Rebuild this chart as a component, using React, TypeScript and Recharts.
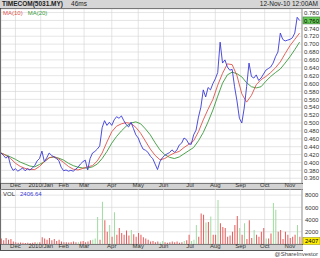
import React from "react";
import { ComposedChart, Line, Bar, Cell, XAxis, YAxis, CartesianGrid } from "recharts";

// trading-day index of each month start (x axis), and its label
const monthTicks = [12, 33, 52, 69, 92, 114, 135, 157, 178, 199, 219, 240];
const monthLabels = ["Dec", "2010/Jan", "Feb", "Mar", "Apr", "May", "Jun", "Jul", "Aug", "Sep", "Oct", "Nov"];

// closing price, one value every 2 trading days (day 0 .. 250)
const closes = [
    0.424, 0.418, 0.411, 0.416, 0.392, 0.38, 0.384, 0.378, 0.382, 0.386,
    0.379, 0.384, 0.381, 0.386, 0.392, 0.404, 0.41, 0.429, 0.402, 0.412,
    0.424, 0.418, 0.414, 0.41, 0.405, 0.388, 0.379, 0.381, 0.378, 0.38,
    0.378, 0.383, 0.388, 0.396, 0.402, 0.406, 0.381, 0.41, 0.424, 0.428,
    0.434, 0.442, 0.488, 0.506, 0.494, 0.502, 0.494, 0.508, 0.516, 0.512,
    0.518, 0.506, 0.496, 0.49, 0.502, 0.486, 0.47, 0.462, 0.446, 0.434,
    0.431, 0.426, 0.416, 0.41, 0.396, 0.382, 0.402, 0.412, 0.418, 0.422,
    0.425, 0.432, 0.426, 0.431, 0.444, 0.449, 0.462, 0.458, 0.447, 0.446,
    0.47, 0.482, 0.515, 0.54, 0.584, 0.566, 0.59, 0.584, 0.6, 0.612,
    0.628, 0.705, 0.652, 0.66, 0.642, 0.634, 0.636, 0.592, 0.556, 0.512,
    0.5, 0.538, 0.592, 0.652, 0.618, 0.614, 0.622, 0.608, 0.614, 0.624,
    0.634, 0.638, 0.642, 0.652, 0.668, 0.68, 0.728, 0.712, 0.708, 0.71,
    0.712, 0.716, 0.728, 0.768, 0.76,
];

// moving averages, one value every 4 trading days (day 0 .. 248)
const ma10 = [
    0.424, 0.418, 0.41, 0.398, 0.39, 0.385, 0.382, 0.382, 0.39, 0.402,
    0.412, 0.415, 0.409, 0.4, 0.39, 0.383, 0.381, 0.385, 0.389, 0.392,
    0.404, 0.424, 0.452, 0.478, 0.492, 0.498, 0.501, 0.499, 0.489, 0.474,
    0.454, 0.434, 0.418, 0.407, 0.41, 0.418, 0.424, 0.428, 0.438, 0.446,
    0.455, 0.478, 0.508, 0.535, 0.56, 0.596, 0.626, 0.65, 0.648, 0.62,
    0.574, 0.553, 0.57, 0.597, 0.61, 0.618, 0.628, 0.64, 0.655, 0.676,
    0.696, 0.712, 0.728,
];
const ma20 = [
    0.424, 0.419, 0.414, 0.408, 0.401, 0.396, 0.391, 0.389, 0.395, 0.402,
    0.412, 0.414, 0.411, 0.406, 0.398, 0.392, 0.388, 0.386, 0.386, 0.389,
    0.396, 0.41, 0.428, 0.449, 0.466, 0.48, 0.492, 0.5, 0.503, 0.498,
    0.485, 0.47, 0.45, 0.432, 0.42, 0.413, 0.41, 0.414, 0.422, 0.43,
    0.438, 0.455, 0.476, 0.503, 0.533, 0.568, 0.601, 0.622, 0.629, 0.625,
    0.617, 0.602, 0.592, 0.589, 0.592, 0.606, 0.618, 0.628, 0.637, 0.652,
    0.668, 0.686, 0.705,
];

// volume ('000), one bar every 2 trading days (day 0 .. 248); 1 = up day
const volumes = [
    900, 600, 1000, 700, 800, 400, 300, 200, 250, 200,
    150, 200, 150, 200, 300, 250, 300, 1100, 900, 700,
    1000, 600, 800, 500, 700, 400, 300, 300, 250, 300,
    400, 300, 300, 400, 500, 300, 400, 600, 700, 900,
    4400, 700, 6900, 3900, 2000, 3100, 1200, 5200, 1500, 2600,
    1800, 1500, 2200, 1400, 2300, 1600, 1200, 1800, 1500, 1100,
    900, 700, 400, 500, 300, 400, 300, 500, 300, 200,
    300, 400, 300, 400, 200, 300, 500, 600, 1500, 500,
    700, 3100, 1200, 5000, 4800, 3500, 3600, 4500, 1500, 1500,
    7200, 3400, 2800, 2600, 1200, 1400, 2000, 3100, 4600, 2600,
    1500, 3400, 800, 3900, 1000, 2300, 1500, 1200, 2000, 2600,
    900, 900, 1700, 6700, 5600, 2000, 2300, 800, 2000, 1500,
    1000, 1200, 1500, 3100, 1200,
];
const volumeUp = [
    0, 0, 0, 0, 0, 0, 0, 0, 0, 0,
    0, 0, 0, 0, 0, 1, 0, 0, 0, 0,
    0, 0, 0, 0, 0, 0, 0, 0, 0, 0,
    0, 0, 1, 0, 0, 0, 0, 0, 1, 1,
    1, 0, 1, 0, 0, 1, 0, 1, 0, 0,
    0, 0, 0, 0, 1, 0, 0, 0, 0, 0,
    0, 0, 0, 0, 0, 0, 1, 1, 0, 0,
    0, 0, 0, 0, 0, 0, 1, 0, 0, 1,
    1, 1, 0, 0, 0, 1, 0, 1, 0, 0,
    1, 0, 0, 0, 0, 0, 0, 0, 0, 1,
    0, 1, 0, 0, 0, 1, 0, 0, 0, 0,
    1, 0, 0, 1, 1, 0, 0, 0, 0, 0,
    0, 0, 0, 1, 0,
];

const priceTicks = [0.36, 0.38, 0.4, 0.42, 0.44, 0.46, 0.48, 0.5, 0.52, 0.54, 0.56, 0.58, 0.6, 0.62, 0.64, 0.66, 0.68, 0.7, 0.72, 0.74, 0.76, 0.78];
const volTicks = [0, 2000, 4000, 6000, 8000];
const lastPrice = 0.76;
const lastVol = "2406.64";

const font = "'Liberation Sans', Arial, sans-serif";

const priceData = closes.map((p, i) => ({ x: i * 2, p }));
const ma10Data = ma10.map((m, i) => ({ x: i * 4, m }));
const ma20Data = ma20.map((m, i) => ({ x: i * 4, m }));
const volData = volumes.map((v, i) => ({ x: i * 2, v, up: volumeUp[i] }));

const monthName = (v: number) => monthLabels[monthTicks.indexOf(v)] ?? "";

const PriceTick = (props: any) => {
    const { x, y, payload } = props;
    const v = payload.value;
    if (Math.abs(v - lastPrice) < 1e-6) {
        return (
            <g>
                <rect x={x - 1} y={y - 3.5} width={17} height={7} fill="#66cc55" stroke="#336633" strokeWidth={0.5} />
                <text x={x} y={y + 2.2} fontSize={6} fontFamily={font} fill="#000">{v.toFixed(3)}</text>
            </g>
        );
    }
    return (
        <text x={x} y={y + 2.2} fontSize={6} fontFamily={font} fill="#333">{v.toFixed(3)}</text>
    );
};

const VolTick = (props: any) => {
    const { x, y, payload } = props;
    const v = payload.value;
    if (v === 0) {
        return (
            <g>
                <rect x={x - 1} y={y - 6.5} width={17} height={7} fill="#ffee00" stroke="#888800" strokeWidth={0.5} />
                <text x={x + 1} y={y - 0.8} fontSize={6} fontFamily={font} fill="#000">{Math.round(Number(lastVol))}</text>
            </g>
        );
    }
    return (
        <text x={x + 1} y={y + 2.2} fontSize={6} fontFamily={font} fill="#333">{v}</text>
    );
};

const band = (top: number): React.CSSProperties => ({
    position: "absolute",
    left: 0,
    top: top,
    width: 303,
    height: 5,
    background: "#d2d2d2",
    borderTop: "1px solid #555",
    borderBottom: "1px solid #555",
});

export default function App() {
    return (
        <div style={{ position: "absolute", left: 0, top: 0, width: 320, height: 258, background: "#fff", overflow: "hidden", fontFamily: font }}>
            {/* title bar */}
            <div style={{ position: "absolute", left: 0, top: 0, width: 320, height: 8, background: "#d6d6d6", borderBottom: "1px solid #777" }} />
            <div style={{ position: "absolute", left: 2, top: 0, fontSize: 6.5, lineHeight: "8px", color: "#222", fontWeight: "bold" }}>
                TIMECOM(5031.MY)
                <span style={{ fontWeight: "normal", marginLeft: 8 }}>46ms</span>
            </div>
            <div style={{ position: "absolute", right: 2, top: 0, fontSize: 6.5, lineHeight: "8px", color: "#222" }}>12-Nov-10 12:00AM</div>

            {/* axis bands */}
            <div style={band(183)} />
            <div style={band(244)} />
            <div style={{ position: "absolute", left: 0, top: 8, width: 1, height: 242, background: "#444" }} />

            {/* price panel */}
            <div style={{ position: "absolute", left: 0, top: 9 }}>
                <ComposedChart width={320} height={180} margin={{ top: 0, right: 0, bottom: 0, left: 1 }}>
                    <CartesianGrid stroke="#d4d4d4" strokeWidth={0.6} />
                    <XAxis
                        type="number"
                        dataKey="x"
                        domain={[0, 250]}
                        ticks={monthTicks}
                        tickFormatter={monthName}
                        allowDataOverflow
                        height={6}
                        tickLine={false}
                        axisLine={false}
                        tickSize={0}
                        tickMargin={0}
                        interval={0}
                        tick={{ fontSize: 6, fill: "#333", fontFamily: font }}
                    />
                    <YAxis
                        orientation="right"
                        domain={[0.348, 0.789]}
                        ticks={priceTicks}
                        allowDataOverflow
                        width={18}
                        tickLine={false}
                        tickSize={0}
                        tickMargin={2}
                        interval={0}
                        axisLine={{ stroke: "#999" }}
                        tick={<PriceTick />}
                    />
                    <Line data={ma20Data} dataKey="m" stroke="#3a9a3a" strokeWidth={0.9} dot={false} isAnimationActive={false} />
                    <Line data={ma10Data} dataKey="m" stroke="#e0524a" strokeWidth={0.9} dot={false} isAnimationActive={false} />
                    <Line data={priceData} dataKey="p" stroke="#3a3ad8" strokeWidth={0.9} dot={false} isAnimationActive={false} />
                </ComposedChart>
            </div>
            <div style={{ position: "absolute", left: 3, top: 9, fontSize: 6, lineHeight: "8px" }}>
                <span style={{ color: "#e0524a" }}>MA(10)</span>
                <span style={{ color: "#3a9a3a", marginLeft: 5 }}>MA(20)</span>
            </div>

            {/* volume panel */}
            <div style={{ position: "absolute", left: 0, top: 189 }}>
                <ComposedChart width={320} height={61} data={volData} margin={{ top: 0, right: 0, bottom: 0, left: 1 }}>
                    <CartesianGrid stroke="#d4d4d4" strokeWidth={0.6} />
                    <XAxis
                        type="number"
                        dataKey="x"
                        domain={[0, 250]}
                        ticks={monthTicks}
                        tickFormatter={monthName}
                        allowDataOverflow
                        height={6}
                        tickLine={false}
                        axisLine={false}
                        tickSize={0}
                        tickMargin={0}
                        interval={0}
                        tick={{ fontSize: 6, fill: "#333", fontFamily: font }}
                    />
                    <YAxis
                        orientation="right"
                        domain={[0, 9000]}
                        ticks={volTicks}
                        allowDataOverflow
                        width={18}
                        tickLine={false}
                        tickSize={0}
                        tickMargin={2}
                        interval={0}
                        axisLine={{ stroke: "#999" }}
                        tick={<VolTick />}
                    />
                    <Bar dataKey="v" barSize={1} isAnimationActive={false}>
                        {volData.map((d, i) => (
                            <Cell key={`vol-${i}`} fill={d.up ? "#9edc9e" : "#e65a5a"} />
                        ))}
                    </Bar>
                </ComposedChart>
            </div>
            <div style={{ position: "absolute", left: 3, top: 190, fontSize: 6, lineHeight: "8px", color: "#333" }}>
                VOL<span style={{ color: "#3a3ad8", marginLeft: 5 }}>{lastVol}</span>
            </div>

            <div style={{ position: "absolute", right: 2, top: 251, fontSize: 6, lineHeight: "7px", color: "#444" }}>@ShareInvestor</div>
        </div>
    );
}
